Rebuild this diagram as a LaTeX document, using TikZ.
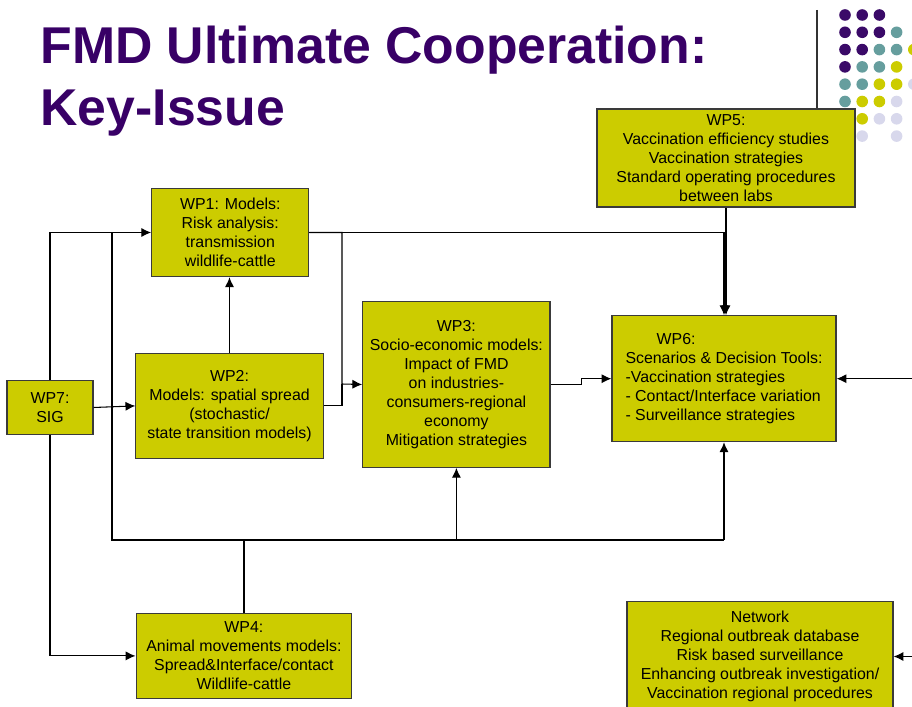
\documentclass[tikz,border=0pt]{standalone}
\usepackage{xcolor}
\usepackage{fontspec}
\setmainfont{Liberation Sans}
\usepackage{tikz}
\usetikzlibrary{arrows.meta}

\definecolor{wpfill}{HTML}{CCCC00}
\definecolor{wpline}{HTML}{3A3A3A}
\definecolor{titlepurple}{HTML}{380066}
\definecolor{dotpurple}{HTML}{3A0A68}
\definecolor{dotteal}{HTML}{669E9E}
\definecolor{dotyellow}{HTML}{CCCC00}
\definecolor{dotlilac}{HTML}{D8D8EC}

\begin{document}
\begin{tikzpicture}[x=0.025cm, y=-0.025cm, >={Latex[length=7pt,width=6.5pt]}, line width=0.75pt]
        \tikzstyle{wp} = [rectangle, draw=wpline, line width=0.8pt, fill=wpfill, inner sep=2pt, align=center, font=\fontsize{11.3}{13.5}\selectfont]
        \tikzstyle{title} = [anchor=base west, inner sep=0pt, text=titlepurple, font=\fontsize{36.8}{44}\selectfont\bfseries]

        \useasboundingbox (0,0) rectangle (912,707);
        \clip (0,0) rectangle (912,707);

        % corner dots and rule
        \foreach \c/\r/\col in {0/0/dotpurple, 1/0/dotpurple, 2/0/dotpurple,
                0/1/dotpurple, 1/1/dotpurple, 2/1/dotpurple, 3/1/dotteal,
                0/2/dotpurple, 1/2/dotpurple, 2/2/dotteal, 3/2/dotteal, 4/2/dotyellow,
                0/3/dotpurple, 1/3/dotteal, 2/3/dotteal, 3/3/dotyellow,
                0/4/dotteal, 1/4/dotteal, 2/4/dotyellow, 3/4/dotyellow, 4/4/dotlilac,
                0/5/dotteal, 1/5/dotyellow, 2/5/dotyellow, 3/5/dotlilac,
                1/6/dotyellow, 2/6/dotlilac, 3/6/dotlilac,
                1/7/dotlilac, 3/7/dotlilac}
            \fill[\col] (845+17.2*\c, 15+17.3*\r) circle (5.8);
        \draw[line width=0.8pt, black!80] (817,10) -- (817,109);

        \node (title1) [title] at (40,63.3) {FMD Ultimate Cooperation:};
        \node (title2) [title] at (40,126) {Key-Issue};

        \node (wp1) [wp, minimum width=3.93cm, minimum height=2.21cm] at (230.3,232.5) {WP1: Models:\\Risk analysis:\\transmission\\wildlife-cattle};
        \node (wp2) [wp, minimum width=4.68cm, minimum height=2.61cm] at (229.5,405.9) {WP2:\\Models: spatial spread\\(stochastic/\\state transition models)};
        \node (wp7) [wp, minimum width=2.15cm, minimum height=1.33cm] at (50,407.5) {WP7:\\SIG};
        \node (wp3) [wp, minimum width=4.68cm, minimum height=4.14cm] at (456.4,384.5) {WP3:\\Socio-economic models:\\Impact of FMD\\on industries-\\consumers-regional\\economy\\Mitigation strategies};
        \node (wp5) [wp, minimum width=6.45cm, minimum height=2.45cm] at (726,158) {WP5:\\Vaccination efficiency studies\\Vaccination strategies\\Standard operating procedures\\between labs};
        \node (wp6) [wp, align=left, minimum width=5.6cm, minimum height=3.15cm] at (724,378.7) {\hspace*{0.78cm}WP6:\\Scenarios \& Decision Tools:\\-Vaccination strategies\\- Contact/Interface variation\\- Surveillance strategies};
        \node (wp4) [wp, minimum width=5.39cm, minimum height=2.14cm] at (243.9,655.9) {WP4:\\Animal movements models:\\Spread\&Interface/contact\\Wildlife-cattle};
        \node (net) [wp, minimum width=6.65cm, minimum height=2.73cm] at (760,656.5) {Network\\Regional outbreak database\\Risk based surveillance\\Enhancing outbreak investigation/\\Vaccination regional procedures};

        \coordinate (b3) at (342,384);
        \coordinate (bl) at (112,540);
        \coordinate (br) at (wp6.south |- bl);
        \coordinate (e6) at (912,378.7);
        \coordinate (enet) at (912,656.5);

        \draw [->] (wp7.east) -- (wp2.west);
        \draw [->] (wp7.north) |- (wp1.west);
        \draw [->] (wp7.south) |- (wp4.west);
        \draw [->] (wp2.north) -- (wp2.north |- wp1.south);
        \draw [->] (wp1.east) -| (wp6.north);
        \draw [->] (wp5.south) -- (wp5.south |- wp6.north);
        \draw [->] (wp1.east) -| (b3) -- (wp3.west);
        \draw (wp2.east) -| (b3);
        \draw [->] (wp3.east) -- ++(31,0) |- (wp6.west);
        \draw [->] (e6) -- (wp6.east);
        \draw [->] (enet) -- (net.east);
        \draw (wp1.west -| bl) -- (bl) -- (br);
        \draw [->] (br) -- (wp6.south);
        \draw [->] (wp3.south |- bl) -- (wp3.south);
        \draw [line width=1.5pt] (wp4.north) -- (wp4.north |- bl);
    \end{tikzpicture}
\end{document}
